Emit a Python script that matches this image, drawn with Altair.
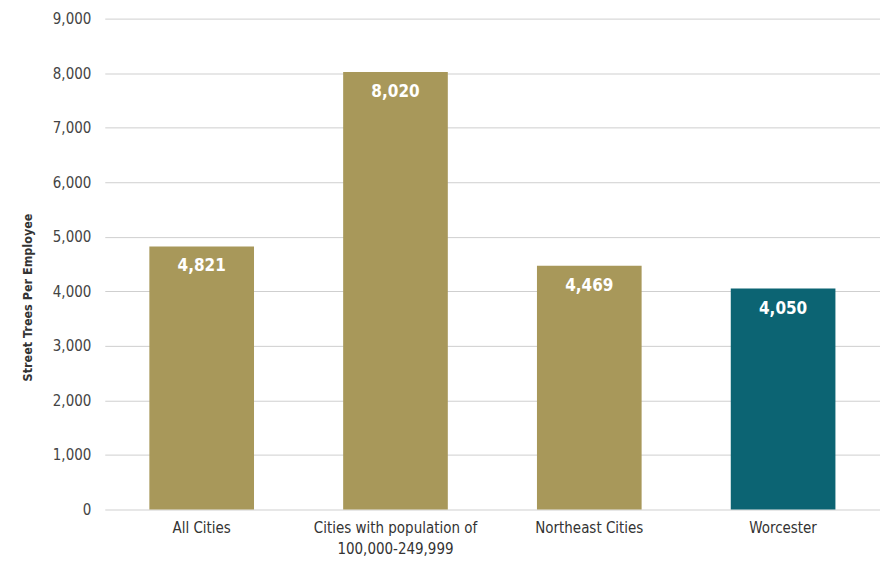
import altair as alt
import pandas as pd

categories = ["All Cities", "Cities with population of|100,000-249,999", "Northeast Cities", "Worcester"]
values = [4821, 8020, 4469, 4050]
colors = ["#a8985a", "#a8985a", "#a8985a", "#0c6473"]

df = pd.DataFrame({"cat": categories, "val": values, "col": colors})

FONT = "DejaVu Sans Condensed"

x = alt.X("cat:N", sort=None, title=None,
          scale=alt.Scale(paddingInner=0.46, paddingOuter=0.23),
          axis=alt.Axis(labelAngle=0, labelExpr="split(datum.label, '|')", labelFontSize=15,
                        labelColor="#333333", labelFont=FONT, labelPadding=11, ticks=False,
                        domain=False, labelLineHeight=21, grid=False))
y = alt.Y("val:Q", title="Street Trees Per Employee",
          scale=alt.Scale(domain=[0, 9000]),
          axis=alt.Axis(values=list(range(0, 9001, 1000)), format=",.0f", labelFontSize=15,
                        labelColor="#444444", labelFont=FONT, labelPadding=14, ticks=False,
                        domain=False, gridColor="#cfcfcf", titleFont=FONT, titleFontSize=12.5,
                        titleFontWeight="bold", titleColor="#333333", titleX=-70, titleY=279))

bars = alt.Chart(df).mark_bar().encode(x=x, y=y, color=alt.Color("col:N", scale=None))
text = alt.Chart(df).mark_text(baseline="top", dy=12, color="white", fontWeight="bold",
                               fontSize=17, font=FONT).encode(
    x=alt.X("cat:N", sort=None), y="val:Q", text=alt.Text("val:Q", format=",.0f"))

chart = (bars + text).properties(
    width=777, height=492,
    background="white",
    autosize=alt.AutoSizeParams(type="none"),
    padding={"left": 97, "top": 10, "right": 0, "bottom": 60},
).configure_view(stroke=None)

chart.save("out.html", embed_options={"renderer": "svg", "actions": False})
